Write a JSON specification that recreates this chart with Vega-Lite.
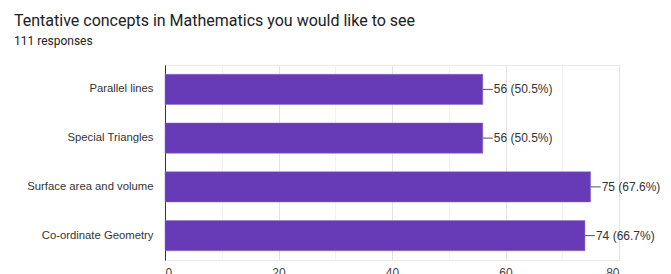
{
  "$schema": "https://vega.github.io/schema/vega-lite/v6.json",
  "autosize": "none",
  "width": 454,
  "height": 195,
  "padding": {"left": 165, "top": 65, "right": 52, "bottom": 14},
  "background": "white",
  "config": {
    "font": "Roboto",
    "view": {"stroke": "#ececec"}
  },
  "title": {
    "text": "Tentative concepts in Mathematics you would like to see",
    "subtitle": "111 responses",
    "anchor": "start",
    "frame": "group",
    "dx": -151,
    "offset": 18,
    "font": "Roboto",
    "fontSize": 16,
    "fontWeight": "normal",
    "color": "#202124",
    "subtitleFont": "Roboto",
    "subtitleFontSize": 12,
    "subtitleColor": "#202124",
    "subtitlePadding": 7
  },
  "data": {
    "values": [
      {"concept": "Parallel lines", "count": 56, "label": "56 (50.5%)"},
      {"concept": "Special Triangles", "count": 56, "label": "56 (50.5%)"},
      {"concept": "Surface area and volume", "count": 75, "label": "75 (67.6%)"},
      {"concept": "Co-ordinate Geometry", "count": 74, "label": "74 (66.7%)"}
    ]
  },
  "encoding": {
    "y": {
      "field": "concept",
      "type": "nominal",
      "sort": null,
      "scale": {"paddingInner": 0.38, "paddingOuter": 0.19},
      "axis": {
        "title": null,
        "ticks": false,
        "domainColor": "#333333",
        "domainWidth": 1,
        "labelFont": "Liberation Sans",
        "labelFontSize": 11.3,
        "labelColor": "#333333",
        "labelPadding": 12
      }
    }
  },
  "layer": [
    {
      "mark": {"type": "bar", "color": "#673ab7", "stroke": "#8c6bcc", "strokeWidth": 0.5},
      "encoding": {
        "x": {
          "field": "count",
          "type": "quantitative",
          "scale": {"domain": [0, 80], "nice": false},
          "axis": {
            "title": null,
            "values": [0, 10, 20, 30, 40, 50, 60, 70, 80],
            "labelExpr": "datum.value % 20 == 0 ? datum.label : ''",
            "ticks": false,
            "domain": false,
            "gridColor": {"condition": {"test": "datum.value % 20 == 0", "value": "#e3e3e3"}, "value": "#f3f3f3"},
            "labelFont": "Liberation Sans",
            "labelFontSize": 12,
            "labelColor": "#444444",
            "labelPadding": 7
          }
        }
      }
    },
    {
      "mark": {"type": "rule", "color": "#555555", "strokeWidth": 1, "x2Offset": 10},
      "encoding": {
        "x": {"field": "count", "type": "quantitative"},
        "x2": {"field": "count"}
      }
    },
    {
      "mark": {"type": "text", "align": "left", "baseline": "middle", "dx": 11, "font": "Liberation Sans", "fontSize": 12, "color": "#333333"},
      "encoding": {
        "x": {"field": "count", "type": "quantitative"},
        "text": {"field": "label"}
      }
    }
  ]
}
